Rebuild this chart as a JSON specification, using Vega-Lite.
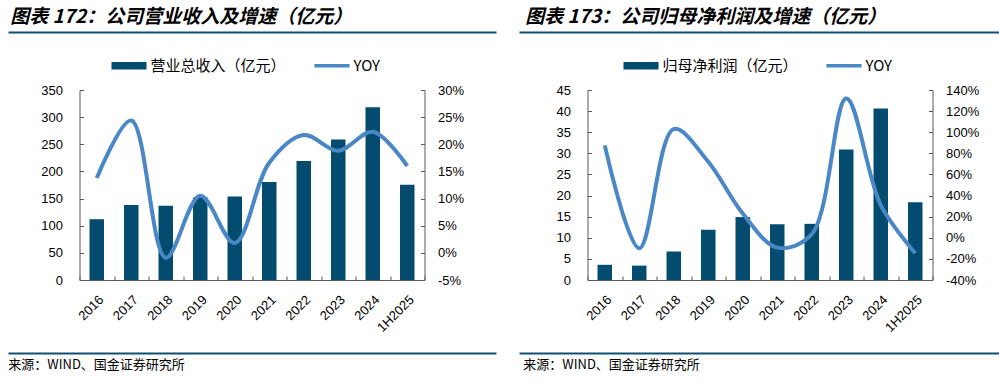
{
  "$schema": "https://vega.github.io/schema/vega-lite/v6.json",
  "background": "white",
  "padding": {"left": 5, "top": 7, "right": 0, "bottom": 0},
  "spacing": 20,
  "config": {"view": {"stroke": null}, "font": "Liberation Sans"},
  "resolve": {"scale": {"color": "independent"}, "legend": {"color": "independent"}},
  "hconcat": [
    {
      "bounds": "flush",
      "center": true,
      "spacing": 58,
      "resolve": {"scale": {"color": "independent"}, "legend": {"color": "independent"}},
      "vconcat": [
        {
          "width": 488, "height": 1,
          "title": {"text": "图表 172：公司营业收入及增速（亿元）", "anchor": "start", "orient": "top", "offset": 2, "dx": 5, "font": "Noto Sans CJK SC", "fontSize": 19, "fontWeight": "bold", "fontStyle": "italic", "color": "black"},
          "data": {"values": [{}]},
          "mark": {"type": "point", "opacity": 0},
          "encoding": {"x": {"datum": 0, "type": "quantitative", "scale": {"domain": [0, 1]}, "axis": {"orient": "bottom", "labels": false, "ticks": false, "grid": false, "title": null, "domainColor": "#104E72", "domainWidth": 2}}}
        },
        {
          "width": 345, "height": 190,
          "data": {"values": [
            {"period": "2016", "value": 112, "yoy": 13.8},
            {"period": "2017", "value": 138, "yoy": 24.4},
            {"period": "2018", "value": 137, "yoy": -0.9},
            {"period": "2019", "value": 152, "yoy": 10.5},
            {"period": "2020", "value": 154, "yoy": 1.8},
            {"period": "2021", "value": 180.5, "yoy": 16.6},
            {"period": "2022", "value": 219, "yoy": 21.7},
            {"period": "2023", "value": 259, "yoy": 18.8},
            {"period": "2024", "value": 318, "yoy": 22.3},
            {"period": "1H2025", "value": 175.5, "yoy": 16.0}
          ]},
          "layer": [
            {
              "mark": {"type": "bar", "width": {"band": 0.42}},
              "encoding": {
                "x": {"field": "period", "type": "ordinal", "sort": null, "scale": {"paddingInner": 0, "paddingOuter": 0},
                      "axis": {"title": null, "labelAngle": -45, "labelFontSize": 13, "labelColor": "black", "tickBand": "extent", "tickSize": -4, "labelPadding": 17, "domainColor": "#595959", "tickColor": "#595959", "grid": false}},
                "y": {"field": "value", "type": "quantitative", "scale": {"domain": [0, 350], "nice": false},
                      "axis": {"orient": "left", "title": null, "values": [0, 50, 100, 150, 200, 250, 300, 350], "grid": false, "labelFontSize": 13, "labelColor": "black", "tickSize": -4, "labelPadding": 21, "domainColor": "#595959", "tickColor": "#595959"}},
                "color": {"datum": "营业总收入（亿元）", "type": "nominal",
                          "scale": {"domain": ["营业总收入（亿元）", "YOY"], "range": ["#034B6F", "#4A87C5"]},
                          "legend": {"orient": "none", "legendX": 32, "legendY": -42, "direction": "horizontal", "title": null, "symbolSize": 1225, "labelFontSize": 15, "labelFont": "Noto Sans CJK SC", "labelColor": "black", "columnPadding": 28, "labelOffset": 4, "symbolStrokeWidth": 0,
                                     "encode": {"symbols": {"update": {"shape": {"signal": "datum.value === 'YOY' ? 'M-1,-0.1H1V0.1H-1Z' : 'M-1,-0.22H1V0.22H-1Z'"}, "fill": {"signal": "datum.value === 'YOY' ? '#4A87C5' : '#034B6F'"}, "opacity": {"value": 1}, "strokeWidth": {"value": 0}}}}}}
              }
            },
            {
              "mark": {"type": "line", "interpolate": "catmull-rom", "strokeWidth": 4},
              "encoding": {
                "x": {"field": "period", "type": "ordinal", "sort": null},
                "y": {"field": "yoy", "type": "quantitative", "scale": {"domain": [-5, 30], "nice": false},
                      "axis": {"orient": "right", "title": null, "values": [-5, 0, 5, 10, 15, 20, 25, 30], "labelExpr": "datum.value + '%'", "grid": false, "labelFontSize": 13, "labelColor": "black", "tickSize": -4, "labelPadding": 17, "domainColor": "#595959", "tickColor": "#595959"}},
                "color": {"datum": "YOY", "type": "nominal"}
              }
            }
          ],
          "resolve": {"scale": {"y": "independent"}}
        },
        {
          "width": 488, "height": 15,
          "title": {"text": "来源：WIND、国金证券研究所", "anchor": "start", "orient": "bottom", "offset": 6, "dx": 3, "font": "Noto Sans CJK SC", "fontSize": 13, "fontWeight": "normal", "color": "black"},
          "data": {"values": [{}]},
          "mark": {"type": "point", "opacity": 0},
          "encoding": {"x": {"datum": 0, "type": "quantitative", "scale": {"domain": [0, 1]}, "axis": {"orient": "bottom", "labels": false, "ticks": false, "grid": false, "title": null, "domainColor": "#104E72", "domainWidth": 2}}}
        }
      ]
    },
    {
      "bounds": "flush",
      "center": true,
      "spacing": 58,
      "resolve": {"scale": {"color": "independent"}, "legend": {"color": "independent"}},
      "vconcat": [
        {
          "width": 482, "height": 1,
          "title": {"text": "图表 173：公司归母净利润及增速（亿元）", "anchor": "start", "orient": "top", "offset": 2, "dx": 9, "font": "Noto Sans CJK SC", "fontSize": 19, "fontWeight": "bold", "fontStyle": "italic", "color": "black"},
          "data": {"values": [{}]},
          "mark": {"type": "point", "opacity": 0},
          "encoding": {"x": {"datum": 0, "type": "quantitative", "scale": {"domain": [0, 1]}, "axis": {"orient": "bottom", "labels": false, "ticks": false, "grid": false, "title": null, "domainColor": "#104E72", "domainWidth": 2}}}
        },
        {
          "width": 345, "height": 190,
          "data": {"values": [
            {"period": "2016", "value": 3.6, "yoy": 87.5},
            {"period": "2017", "value": 3.4, "yoy": -10},
            {"period": "2018", "value": 6.75, "yoy": 103},
            {"period": "2019", "value": 11.9, "yoy": 72},
            {"period": "2020", "value": 14.9, "yoy": 23},
            {"period": "2021", "value": 13.2, "yoy": -9.3},
            {"period": "2022", "value": 13.3, "yoy": 3.4},
            {"period": "2023", "value": 30.9, "yoy": 132},
            {"period": "2024", "value": 40.6, "yoy": 31},
            {"period": "1H2025", "value": 18.4, "yoy": -14.6}
          ]},
          "layer": [
            {
              "mark": {"type": "bar", "width": {"band": 0.42}},
              "encoding": {
                "x": {"field": "period", "type": "ordinal", "sort": null, "scale": {"paddingInner": 0, "paddingOuter": 0},
                      "axis": {"title": null, "labelAngle": -45, "labelFontSize": 13, "labelColor": "black", "tickBand": "extent", "tickSize": -4, "labelPadding": 17, "domainColor": "#595959", "tickColor": "#595959", "grid": false}},
                "y": {"field": "value", "type": "quantitative", "scale": {"domain": [0, 45], "nice": false},
                      "axis": {"orient": "left", "title": null, "values": [0, 5, 10, 15, 20, 25, 30, 35, 40, 45], "grid": false, "labelFontSize": 13, "labelColor": "black", "tickSize": -4, "labelPadding": 21, "domainColor": "#595959", "tickColor": "#595959"}},
                "color": {"datum": "归母净利润（亿元）", "type": "nominal",
                          "scale": {"domain": ["归母净利润（亿元）", "YOY"], "range": ["#034B6F", "#4A87C5"]},
                          "legend": {"orient": "none", "legendX": 36, "legendY": -42, "direction": "horizontal", "title": null, "symbolSize": 1225, "labelFontSize": 15, "labelFont": "Noto Sans CJK SC", "labelColor": "black", "columnPadding": 28, "labelOffset": 4, "symbolStrokeWidth": 0,
                                     "encode": {"symbols": {"update": {"shape": {"signal": "datum.value === 'YOY' ? 'M-1,-0.1H1V0.1H-1Z' : 'M-1,-0.22H1V0.22H-1Z'"}, "fill": {"signal": "datum.value === 'YOY' ? '#4A87C5' : '#034B6F'"}, "opacity": {"value": 1}, "strokeWidth": {"value": 0}}}}}}
              }
            },
            {
              "mark": {"type": "line", "interpolate": "catmull-rom", "strokeWidth": 4},
              "encoding": {
                "x": {"field": "period", "type": "ordinal", "sort": null},
                "y": {"field": "yoy", "type": "quantitative", "scale": {"domain": [-40, 140], "nice": false},
                      "axis": {"orient": "right", "title": null, "values": [-40, -20, 0, 20, 40, 60, 80, 100, 120, 140], "labelExpr": "datum.value + '%'", "grid": false, "labelFontSize": 13, "labelColor": "black", "tickSize": -4, "labelPadding": 17, "domainColor": "#595959", "tickColor": "#595959"}},
                "color": {"datum": "YOY", "type": "nominal"}
              }
            }
          ],
          "resolve": {"scale": {"y": "independent"}}
        },
        {
          "width": 482, "height": 15,
          "title": {"text": "来源：WIND、国金证券研究所", "anchor": "start", "orient": "bottom", "offset": 6, "dx": 7, "font": "Noto Sans CJK SC", "fontSize": 13, "fontWeight": "normal", "color": "black"},
          "data": {"values": [{}]},
          "mark": {"type": "point", "opacity": 0},
          "encoding": {"x": {"datum": 0, "type": "quantitative", "scale": {"domain": [0, 1]}, "axis": {"orient": "bottom", "labels": false, "ticks": false, "grid": false, "title": null, "domainColor": "#104E72", "domainWidth": 2}}}
        }
      ]
    }
  ]
}
